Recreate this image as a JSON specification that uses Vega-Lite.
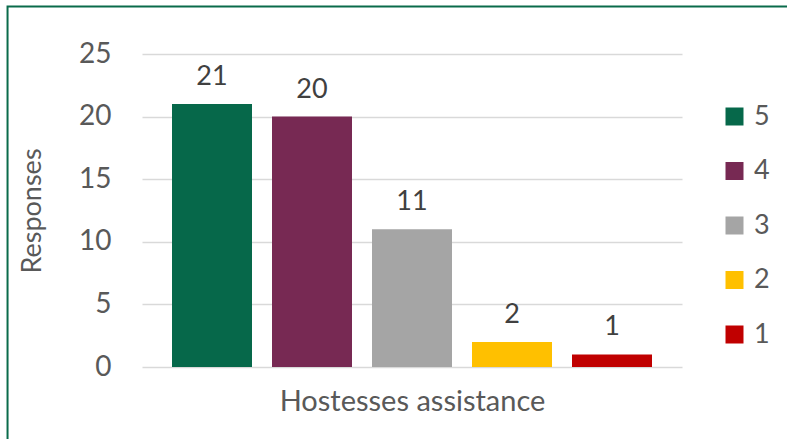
{
  "$schema": "https://vega.github.io/schema/vega-lite/v6.json",
  "width": 540,
  "height": 313,
  "autosize": "none",
  "padding": {"left": 142, "top": 54, "right": 105, "bottom": 72},
  "background": "white",
  "config": {"view": {"stroke": null}, "font": "Lato"},
  "data": {"values": [
    {"rating": "5", "count": 21},
    {"rating": "4", "count": 20},
    {"rating": "3", "count": 11},
    {"rating": "2", "count": 2},
    {"rating": "1", "count": 1}
  ]},
  "layer": [
    {
      "layer": [
        {
          "mark": {"type": "bar"},
          "encoding": {
            "x": {"field": "rating", "type": "nominal", "sort": ["5", "4", "3", "2", "1"],
              "scale": {"paddingInner": 0.2, "paddingOuter": 0.3},
              "axis": {"labels": false, "ticks": false, "domain": false, "title": "Hostesses assistance",
                "titleFontSize": 29, "titleColor": "#595959", "titleFontWeight": "normal", "titlePadding": 20}},
            "y": {"field": "count", "type": "quantitative", "scale": {"domain": [0, 25], "nice": false},
              "axis": {"values": [0, 5, 10, 15, 20, 25], "grid": true, "gridColor": "#D9D9D9", "gridWidth": 1.5,
                "domain": false, "ticks": false, "labelPadding": 31, "labelFontSize": 28, "labelColor": "#595959",
                "title": "Responses", "titleFontSize": 27, "titleColor": "#595959", "titleFontWeight": "normal", "titlePadding": 32}},
            "color": {"field": "rating", "type": "nominal",
              "scale": {"domain": ["5", "4", "3", "2", "1"], "range": ["#06684A", "#772953", "#A5A5A5", "#FFC000", "#C00000"]},
              "legend": {"title": null, "orient": "none", "legendX": 579, "legendY": 49, "symbolType": "square",
                "symbolSize": 324, "symbolStrokeWidth": 0, "labelFontSize": 27, "labelColor": "#595959",
                "rowPadding": 26.5, "labelOffset": 6}}
          }
        },
        {
          "mark": {"type": "text", "baseline": "alphabetic", "dy": -19, "fontSize": 27, "color": "#404040"},
          "encoding": {
            "x": {"field": "rating", "type": "nominal", "sort": ["5", "4", "3", "2", "1"]},
            "y": {"field": "count", "type": "quantitative"},
            "text": {"field": "count", "type": "quantitative"}
          }
        }
      ]
    },
    {
      "data": {"values": [{"frame": "chart"}]},
      "mark": {"type": "rect", "fill": null, "stroke": "#0A6B4B", "strokeWidth": 2, "clip": false},
      "encoding": {
        "x": {"datum": -0.249, "type": "quantitative", "scale": {"domain": [0, 1], "nice": false, "zero": false}, "axis": null},
        "x2": {"datum": 1.3},
        "y": {"datum": 1.152, "type": "quantitative", "scale": {"domain": [0, 1], "nice": false, "zero": false}, "axis": null},
        "y2": {"datum": -0.3}
      }
    }
  ],
  "resolve": {"scale": {"x": "independent", "y": "independent"}}
}
